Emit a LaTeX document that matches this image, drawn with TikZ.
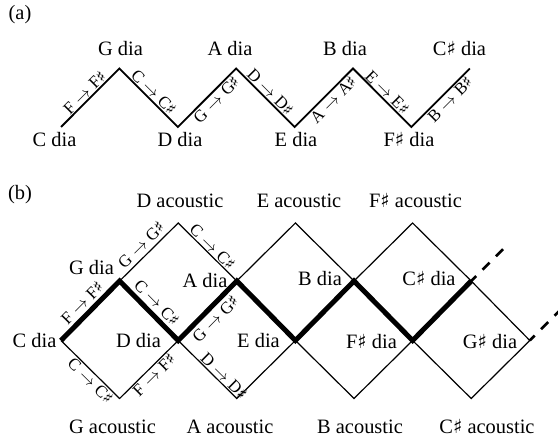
\documentclass[tikz,border=0pt]{standalone}
\usepackage{fix-cm}
\usepackage{fontspec}
\setmainfont{Liberation Serif}
\newfontfamily\musicsym[Scale=0.95]{DejaVu Sans}
\newcommand{\shp}{{\musicsym ♯}}
\newcommand{\tr}[1]{#1${}\rightarrow{}$#1\shp}
\begin{document}
\begin{tikzpicture}[x=1bp,y=-1bp,
  lab/.style={font=\fontsize{20.5}{24}\selectfont, inner sep=0pt, anchor=base},
  elab/.style={font=\fontsize{17}{20}\selectfont, inner sep=1pt, sloped},
  zig/.style={line width=1.8bp},
  edge/.style={line width=1.2bp},
  heavy/.style={line width=5bp},
  cont/.style={line width=2.6bp, dash pattern=on 10bp off 9bp, dash phase=3bp}]

\useasboundingbox (0,0) rectangle (558,439);
\fill[white] (0,0) rectangle (558,439);
\clip (0,0) rectangle (558,439);

% ---------- (a): the chain of diatonic scales ----------
\node[lab] (pa) at (20,20) {(a)};
\coordinate (a1) at (61,127);
\coordinate (a2) at (119.4,68.5);
\coordinate (a3) at (177.8,127);
\coordinate (a4) at (236.2,68.5);
\coordinate (a5) at (294.6,127);
\coordinate (a6) at (353,68.5);
\coordinate (a7) at (411.4,127);
\coordinate (a8) at (469.8,68.5);

\draw[zig] (a1) -- node[elab,above] (ea1) {\tr{F}}
  (a2) -- node[elab,above] (ea2) {\tr{C}}
  (a3) -- node[elab,below,pos=.57] (ea3) {\tr{G}}
  (a4) -- node[elab,above] (ea4) {\tr{D}}
  (a5) -- node[elab,below,pos=.57] (ea5) {\tr{A}}
  (a6) -- node[elab,above] (ea6) {\tr{E}}
  (a7) -- node[elab,below,pos=.57] (ea7) {\tr{B}}
  (a8);

\node[lab] (la1) at (54.5,147) {C dia};
\node[lab] (la2) at (120.5,56) {G dia};
\node[lab] (la3) at (180,147) {D dia};
\node[lab] (la4) at (230,56) {A dia};
\node[lab] (la5) at (296,147) {E dia};
\node[lab] (la6) at (345,56) {B dia};
\node[lab] (la7) at (409,147) {F\shp{} dia};
\node[lab] (la8) at (459.5,56) {C\shp{} dia};

% ---------- (b): diatonic and acoustic scales ----------
\node[lab] (pb) at (20,200) {(b)};
\coordinate (c1) at (61,340.5);
\coordinate (c2) at (119.6,281);
\coordinate (c3) at (178.2,340.5);
\coordinate (c4) at (236.8,281);
\coordinate (c5) at (295.4,340.5);
\coordinate (c6) at (354,281);
\coordinate (c7) at (412.6,340.5);
\coordinate (c8) at (471.2,281);
\coordinate (c9) at (529.8,340.5);
\coordinate (tD) at (178.2,223);
\coordinate (tE) at (295.4,223);
\coordinate (tF) at (412.6,223);
\coordinate (bG) at (119.6,398.5);
\coordinate (bA) at (236.8,398.5);
\coordinate (bB) at (354,398.5);
\coordinate (bC) at (471.2,398.5);
\coordinate (e1) at (506.2,246);
\coordinate (e2) at (564.8,305.5);

% lower diamonds (acoustic scales below)
\draw[edge] (c1) -- node[elab,below,pos=.6] (eb1) {\tr{C}}
  (bG) -- node[elab,below] (eb2) {\tr{F}}
  (c3) -- node[elab,above,pos=.7] (eb3) {\tr{D}}
  (bA) -- (c5) -- (bB) -- (c7) -- (bC) -- (c9) -- (c8);
% upper diamonds (acoustic scales above)
\draw[edge] (c2) -- node[elab,above=3pt] (eb4) {\tr{G}}
  (tD) -- node[elab,above] (eb5) {\tr{C}}
  (c4) -- (tE) -- (c6) -- (tF) -- (c8);
% the diatonic chain
\draw[heavy] (c1) -- node[elab,above=2pt] (eb6) {\tr{F}}
  (c2) -- node[elab,above=2pt] (eb7) {\tr{C}}
  (c3) -- node[elab,below=2pt] (eb8) {\tr{G}}
  (c4) -- (c5) -- (c6) -- (c7) -- (c8);
% continuation
\draw[cont] (c8) -- (e1);
\draw[cont] (c9) -- (e2);

\node[lab] (lb1) at (34.5,347) {C dia};
\node[lab] (lb2) at (91.5,275) {G dia};
\node[lab] (lb3) at (138.5,347) {D dia};
\node[lab] (lb4) at (205,287) {A dia};
\node[lab] (lb5) at (258.5,347) {E dia};
\node[lab] (lb6) at (320,285) {B dia};
\node[lab] (lb7) at (371.5,348) {F\shp{} dia};
\node[lab] (lb8) at (429,285) {C\shp{} dia};
\node[lab] (lb9) at (490,348) {G\shp{} dia};

\node[lab] (ac1) at (180,208) {D acoustic};
\node[lab] (ac2) at (299,208) {E acoustic};
\node[lab] (ac3) at (415.5,208) {F\shp{} acoustic};
\node[lab] (ac4) at (112.5,433) {G acoustic};
\node[lab] (ac5) at (230,433) {A acoustic};
\node[lab] (ac6) at (360,433) {B acoustic};
\node[lab] (ac7) at (487,433) {C\shp{} acoustic};
\end{tikzpicture}
\end{document}
